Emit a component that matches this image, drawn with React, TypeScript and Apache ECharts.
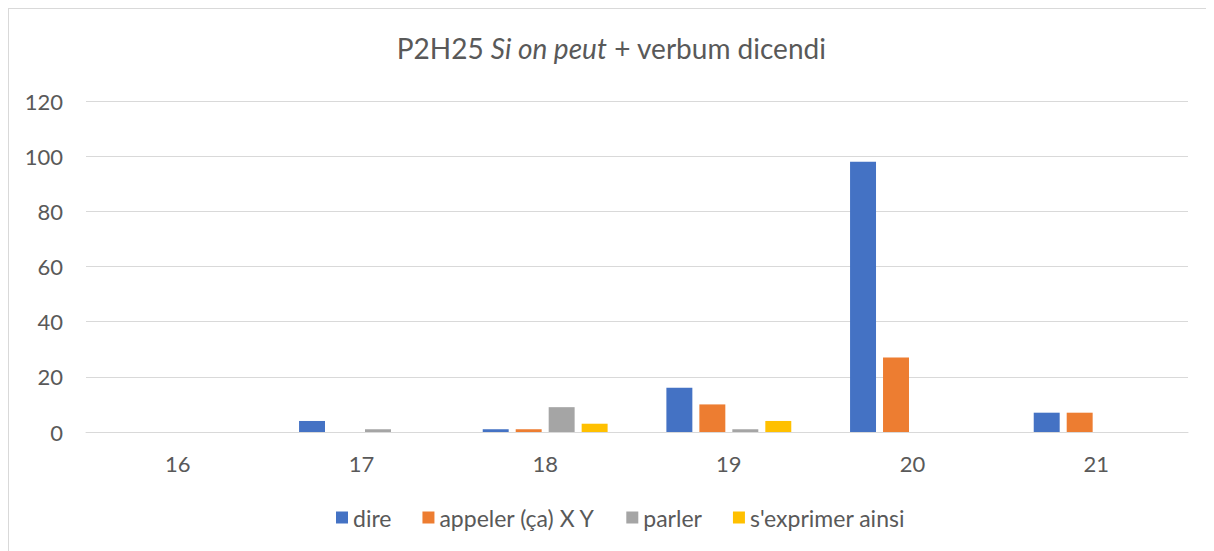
import React, { useEffect, useRef } from "react";
import * as echarts from "echarts";

const categories = ["16", "17", "18", "19", "20", "21"];
const seriesNames = ["dire", "appeler (ça) X Y", "parler", "s'exprimer ainsi"];
const dire = [0, 4, 1, 16, 98, 7];
const appeler = [0, 0, 1, 10, 27, 7];
const parler = [0, 1, 9, 1, 0, 0];
const exprimer = [0, 0, 3, 4, 0, 0];
const colors = ["#4472C4", "#ED7D31", "#A5A5A5", "#FFC000"];

export default function App() {
  const ref = useRef<HTMLDivElement>(null);
  useEffect(() => {
    if (!ref.current) return;
    const chart = echarts.init(ref.current, undefined, { renderer: "svg" });
    const font = "Lato, 'Open Sans', sans-serif";
    const data = [dire, appeler, parler, exprimer];
    chart.setOption({
      animation: false,
      color: colors,
      textStyle: { fontFamily: font },
      title: {
        text: "{n|P2H25 }{i|Si on peut}{n| + verbum dicendi}",
        left: "center",
        top: 20,
        textStyle: {
          fontWeight: "normal",
          rich: {
            n: { fontSize: 28, color: "#595959", fontFamily: font, fontWeight: "normal" },
            i: { fontSize: 28, color: "#595959", fontStyle: "italic", fontFamily: font, fontWeight: "normal" },
          },
        },
      },
      legend: {
        bottom: 17,
        left: 322,
        itemWidth: 12,
        itemHeight: 12,
        itemGap: 31,
        icon: "rect",
        textStyle: { fontSize: 23, color: "#595959", fontFamily: font },
        data: seriesNames,
      },
      grid: { left: 77, right: 26, top: 92, bottom: 119, containLabel: false },
      xAxis: {
        type: "category",
        data: categories,
        axisLine: { lineStyle: { color: "#D9D9D9", width: 1 } },
        axisTick: { show: false },
        axisLabel: { fontSize: 22, color: "#595959", margin: 20 },
      },
      yAxis: {
        type: "value",
        min: 0,
        max: 120,
        interval: 20,
        axisLine: { show: false },
        axisTick: { show: false },
        splitLine: { lineStyle: { color: "#D9D9D9", width: 1 } },
        axisLabel: { fontSize: 22, color: "#595959", margin: 23 },
      },
      series: seriesNames.map((name, i) => ({
        name,
        type: "bar",
        data: data[i],
        barGap: "27%",
        barCategoryGap: "32%",
        itemStyle: { color: colors[i] },
      })),
    });
    return () => chart.dispose();
  }, []);
  return (
    <div
      ref={ref}
      style={{
        width: 1206,
        height: 543,
        boxSizing: "border-box",
        borderLeft: "1px solid #D9D9D9",
        borderTop: "1px solid #D9D9D9",
        overflow: "hidden",
      }}
    />
  );
}
